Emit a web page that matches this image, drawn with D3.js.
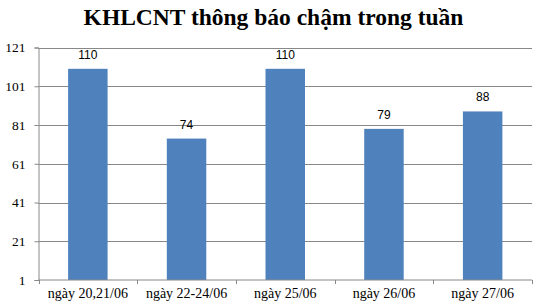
<!DOCTYPE html>
<html lang="vi">
<head>
<meta charset="UTF-8">
<title>KHLCNT thông báo chậm trong tuần</title>
<script src="https://cdnjs.cloudflare.com/ajax/libs/d3/7.8.5/d3.min.js"></script>
<style>
    body { margin: 0; background: #fff; }
    .title { font-family: "Liberation Serif", "Times New Roman", serif; font-weight: bold; font-size: 23.5px; fill: #000; }
    .tick text { font-family: "Liberation Serif", "Times New Roman", serif; fill: #000; }
    .value { font-family: "Liberation Sans", Arial, sans-serif; font-size: 12px; fill: #000; }
</style>
</head>
<body>
<div id="chart"></div>
<script>
    // data
    const categories = ["ngày 20,21/06", "ngày 22-24/06", "ngày 25/06", "ngày 26/06", "ngày 27/06"];
    const values = [110, 74, 110, 79, 88];
    const yTicks = [1, 21, 41, 61, 81, 101, 121];

    const width = 544, height = 304;
    const margin = {top: 47.5, right: 12, bottom: 24, left: 38.5};

    const svg = d3.select("#chart").append("svg")
        .attr("width", width)
        .attr("height", height);

    svg.append("text")
        .attr("class", "title")
        .attr("x", 273.5)
        .attr("y", 25)
        .attr("text-anchor", "middle")
        .text("KHLCNT thông báo chậm trong tuần");

    const x = d3.scaleBand()
        .domain(categories)
        .range([margin.left, width - margin.right])
        .paddingInner(0.6)
        .paddingOuter(0.3);

    const y = d3.scaleLinear()
        .domain([1, 121])
        .range([height - margin.bottom, margin.top]);

    // gridlines
    svg.append("g")
        .selectAll("line")
        .data(yTicks.slice(1))
        .join("line")
        .attr("x1", margin.left)
        .attr("x2", width - margin.right)
        .attr("y1", d => Math.round(y(d)) + 0.5)
        .attr("y2", d => Math.round(y(d)) + 0.5)
        .attr("stroke", "#888");

    // bars
    svg.append("g")
        .selectAll("rect")
        .data(values)
        .join("rect")
        .attr("x", (d, i) => x(categories[i]))
        .attr("y", d => y(d))
        .attr("width", x.bandwidth())
        .attr("height", d => y(1) - y(d))
        .attr("fill", "#4f81bd");

    // value labels
    svg.append("g")
        .selectAll("text")
        .data(values)
        .join("text")
        .attr("class", "value")
        .attr("x", (d, i) => x(categories[i]) + x.bandwidth() / 2)
        .attr("y", d => y(d) - 10)
        .attr("text-anchor", "middle")
        .text(d => d);

    // y axis
    const yAxis = svg.append("g")
        .attr("transform", `translate(${margin.left},0)`)
        .call(d3.axisLeft(y).tickValues(yTicks).tickSize(4).tickPadding(9).tickFormat(d3.format("d")));
    yAxis.selectAll("line, path").attr("stroke", "#888");
    yAxis.selectAll("text").attr("font-size", 13.5);

    // x axis with ticks between categories
    const xAxis = svg.append("g")
        .attr("transform", `translate(0,${y(1)})`);
    xAxis.append("line")
        .attr("x1", margin.left)
        .attr("x2", width - margin.right)
        .attr("stroke", "#888");
    const bounds = d3.range(categories.length + 1).map(i => margin.left + i * (width - margin.right - margin.left) / categories.length);
    xAxis.selectAll(".xt")
        .data(bounds)
        .join("line")
        .attr("class", "xt")
        .attr("x1", d => Math.round(d) + 0.5)
        .attr("x2", d => Math.round(d) + 0.5)
        .attr("y1", 0)
        .attr("y2", 4)
        .attr("stroke", "#888");
    xAxis.selectAll(".xl")
        .data(categories)
        .join("text")
        .attr("class", "xl")
        .attr("x", d => x(d) + x.bandwidth() / 2)
        .attr("y", 18)
        .attr("text-anchor", "middle")
        .attr("font-family", "'Liberation Serif', 'Times New Roman', serif")
        .attr("font-size", 14)
        .text(d => d);
</script>
</body>
</html>
